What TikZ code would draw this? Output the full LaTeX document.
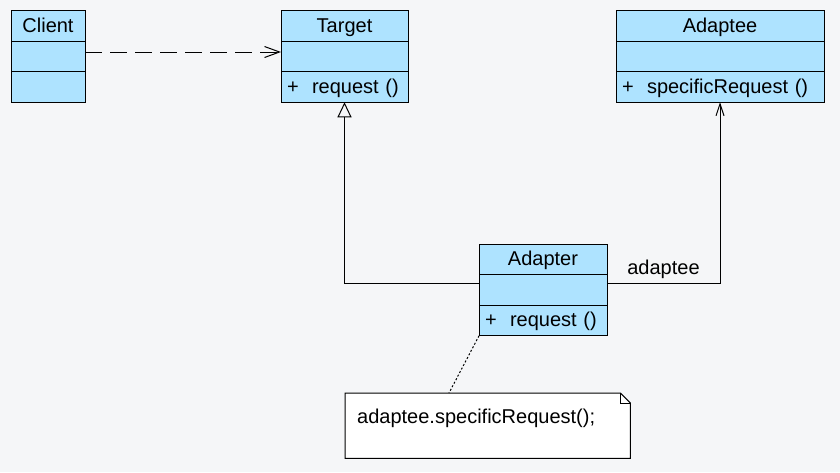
\documentclass[tikz,border=0pt]{standalone}
\usepackage{fontspec}
\setmainfont{Liberation Sans}
\usepackage{tikz}
\usetikzlibrary{arrows.meta,positioning,backgrounds}
\usepackage{xcolor}
\definecolor{canvas}{HTML}{F5F6F8}
\definecolor{classfill}{HTML}{AEE3FF}
\definecolor{ink}{HTML}{000000}
\newcommand{\umlfont}{\fontsize{20}{24}\selectfont}
\tikzset{
  classhead/.style={draw=ink,fill=classfill,line width=1pt,outer sep=0pt,
                    inner sep=0pt,minimum height=30.5pt,font=\umlfont,
                    text height=15pt,text depth=3pt},
  classops/.style={classhead,inner xsep=6pt,text width=#1,align=left},
  notebox/.style={draw=ink,fill=white,line width=1pt},
  depend/.style={-{Straight Barb[length=15pt,width=11pt]},line width=1pt,
                 draw=ink,dash pattern=on 17pt off 8pt},
  inherit/.style={-{Triangle[open,length=15pt,width=14pt]},line width=1pt,draw=ink},
  assoc/.style={-{Straight Barb[length=12pt,width=8pt]},line width=1pt,draw=ink},
  noteline/.style={line width=1pt,draw=ink,dash pattern=on 2pt off 2pt}
}
\begin{document}
\begin{tikzpicture}[x=1pt,y=-1pt]
  % classes
  \node[classhead,minimum width=74pt] (clienthead) at (48,26) {Client};
  \node[classhead,minimum width=74pt,below=0pt of clienthead] (clientattr) {};
  \node[classhead,minimum width=74pt,below=0pt of clientattr] (clientops) {};

  \node[classhead,minimum width=127pt,right=196pt of clienthead] (targethead) {Target};
  \node[classhead,minimum width=127pt,below=0pt of targethead] (targetattr) {};
  \node[classops=115pt,below=0pt of targetattr] (targetops) {+\ \ request ()};

  \node[classhead,minimum width=208pt,right=208pt of targethead] (adapteehead) {Adaptee};
  \node[classhead,minimum width=208pt,below=0pt of adapteehead] (adapteeattr) {};
  \node[classops=196pt,below=0pt of adapteeattr] (adapteeops) {+\ \ specificRequest ()};

  \node[classhead,minimum width=128pt] (adapterhead) at (543,259.5) {Adapter};
  \node[classhead,minimum width=128pt,below=0pt of adapterhead] (adapterattr) {};
  \node[classops=116pt,below=0pt of adapterattr] (adapterops) {+\ \ request ()};

  % note
  \node[anchor=north west,inner xsep=12pt,inner ysep=0pt,text width=261pt,
        text height=30pt,text depth=35pt,font=\umlfont] (note) at (345,393)
    {adaptee.specificRequest();};
  \begin{scope}[on background layer]
    \fill[canvas] (0,0) rectangle (840,472);
    \draw[notebox] (note.north west) -- ([xshift=-10pt]note.north east)
      -- ([yshift=-10pt]note.north east) -- (note.south east)
      -- (note.south west) -- cycle;
    \draw[line width=1pt,draw=ink] ([xshift=-10pt]note.north east)
      |- ([yshift=-10pt]note.north east);
  \end{scope}

  % relations
  \draw[depend] ([yshift=4.5pt]clientattr.east) -- ([yshift=4.5pt]targetattr.west);
  \draw[inherit] ([yshift=7pt]adapterattr.west) -| (targetops.south);
  \draw[assoc] ([yshift=7pt]adapterattr.east) -|
    node[pos=0.25,above=1pt,font=\umlfont] {adaptee} (adapteeops.south);
  \draw[noteline] (adapterops.south west) -- ([xshift=104pt]note.north west);
\end{tikzpicture}
\end{document}
